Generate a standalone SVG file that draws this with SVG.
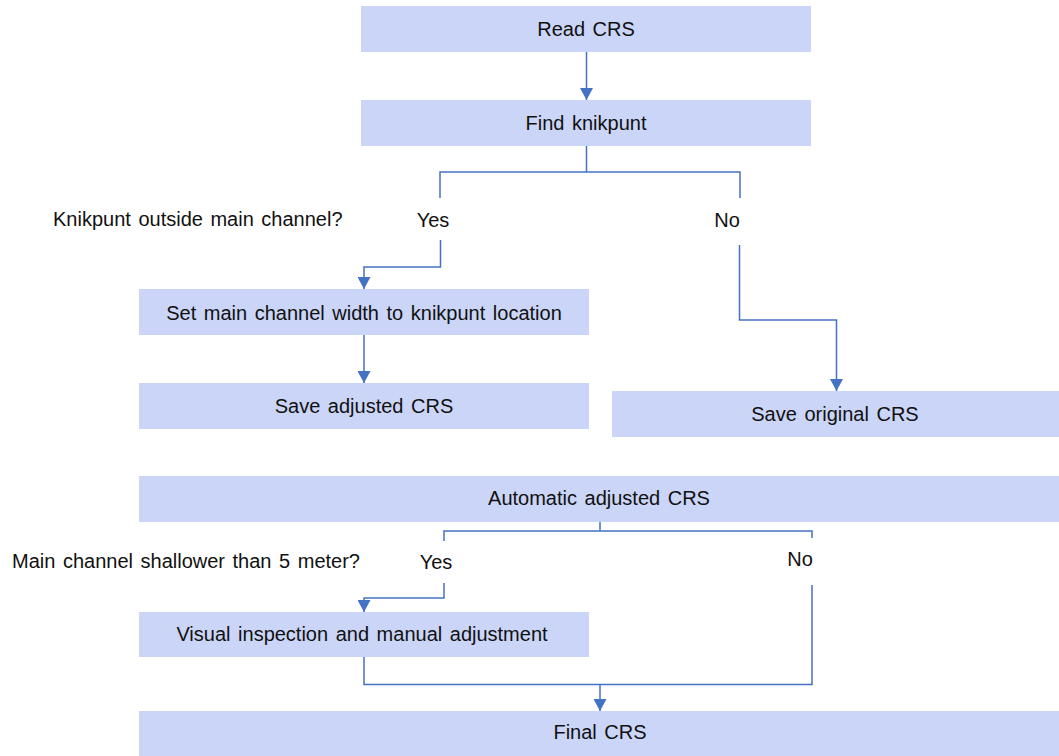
<svg xmlns="http://www.w3.org/2000/svg" width="1059" height="756" viewBox="0 0 1059 756">
  <defs>
    <style>
      .box { fill: #cbd5f8; }
      .lbl { font-family: "Liberation Sans", Arial, sans-serif; font-size: 20px; fill: #111; word-spacing: 2px; }
      .mid { text-anchor: middle; }
      .wire { fill: none; stroke: #4472c4; stroke-width: 1.5; }
    </style>
    <marker id="head" viewBox="0 0 12 13" refX="12" refY="6.5" markerWidth="12" markerHeight="13" markerUnits="userSpaceOnUse" orient="auto">
      <path d="M0,0 L12,6.5 L0,13 Z" fill="#4472c4"/>
    </marker>
  </defs>
  <rect width="1059" height="756" fill="#ffffff"/>

  <!-- process boxes -->
  <g id="read-crs">
    <rect class="box" x="361" y="6" width="450" height="46"/>
    <text class="lbl mid" x="586" y="36">Read CRS</text>
  </g>
  <g id="find-knikpunt">
    <rect class="box" x="361" y="100" width="450" height="46"/>
    <text class="lbl mid" x="586" y="130">Find knikpunt</text>
  </g>
  <g id="set-width">
    <rect class="box" x="139" y="289" width="450" height="46"/>
    <text class="lbl mid" x="364" y="320">Set main channel width to knikpunt location</text>
  </g>
  <g id="save-adjusted">
    <rect class="box" x="139" y="383" width="450" height="46"/>
    <text class="lbl mid" x="364" y="413">Save adjusted CRS</text>
  </g>
  <g id="save-original">
    <rect class="box" x="612" y="391" width="447" height="46"/>
    <text class="lbl mid" x="835" y="421">Save original CRS</text>
  </g>
  <g id="automatic-adjusted">
    <rect class="box" x="139" y="476" width="920" height="46"/>
    <text class="lbl mid" x="599" y="505">Automatic adjusted CRS</text>
  </g>
  <g id="visual-inspection">
    <rect class="box" x="139" y="612" width="450" height="45"/>
    <text class="lbl mid" x="362" y="641">Visual inspection and manual adjustment</text>
  </g>
  <g id="final-crs">
    <rect class="box" x="139" y="711" width="920" height="50"/>
    <text class="lbl mid" x="600" y="739">Final CRS</text>
  </g>

  <!-- decision questions and branch labels -->
  <g id="question-1">
    <text class="lbl" x="53" y="226">Knikpunt outside main channel?</text>
    <text class="lbl mid" x="433" y="227">Yes</text>
    <text class="lbl mid" x="727" y="227">No</text>
  </g>
  <g id="question-2">
    <text class="lbl" x="12" y="568">Main channel shallower than 5 meter?</text>
    <text class="lbl mid" x="436" y="569">Yes</text>
    <text class="lbl mid" x="800" y="566">No</text>
  </g>

  <!-- connectors -->
  <g id="connectors">
    <path class="wire" d="M586.5,52 V100" marker-end="url(#head)"/>
    <path class="wire" d="M586.5,146 V172 M440,198 V172 H740 V198"/>
    <path class="wire" d="M440.5,240 V267 H364 V289" marker-end="url(#head)"/>
    <path class="wire" d="M364,335 V383" marker-end="url(#head)"/>
    <path class="wire" d="M739.5,245 V320 H836.5 V391" marker-end="url(#head)"/>
    <path class="wire" d="M600,522 V531 M444,541 V531 H812 V538"/>
    <path class="wire" d="M444,583 V598 H364 V612" marker-end="url(#head)"/>
    <path class="wire" d="M364,657 V684.5 H812 V585"/>
    <path class="wire" d="M600,684.5 V711" marker-end="url(#head)"/>
  </g>
</svg>
